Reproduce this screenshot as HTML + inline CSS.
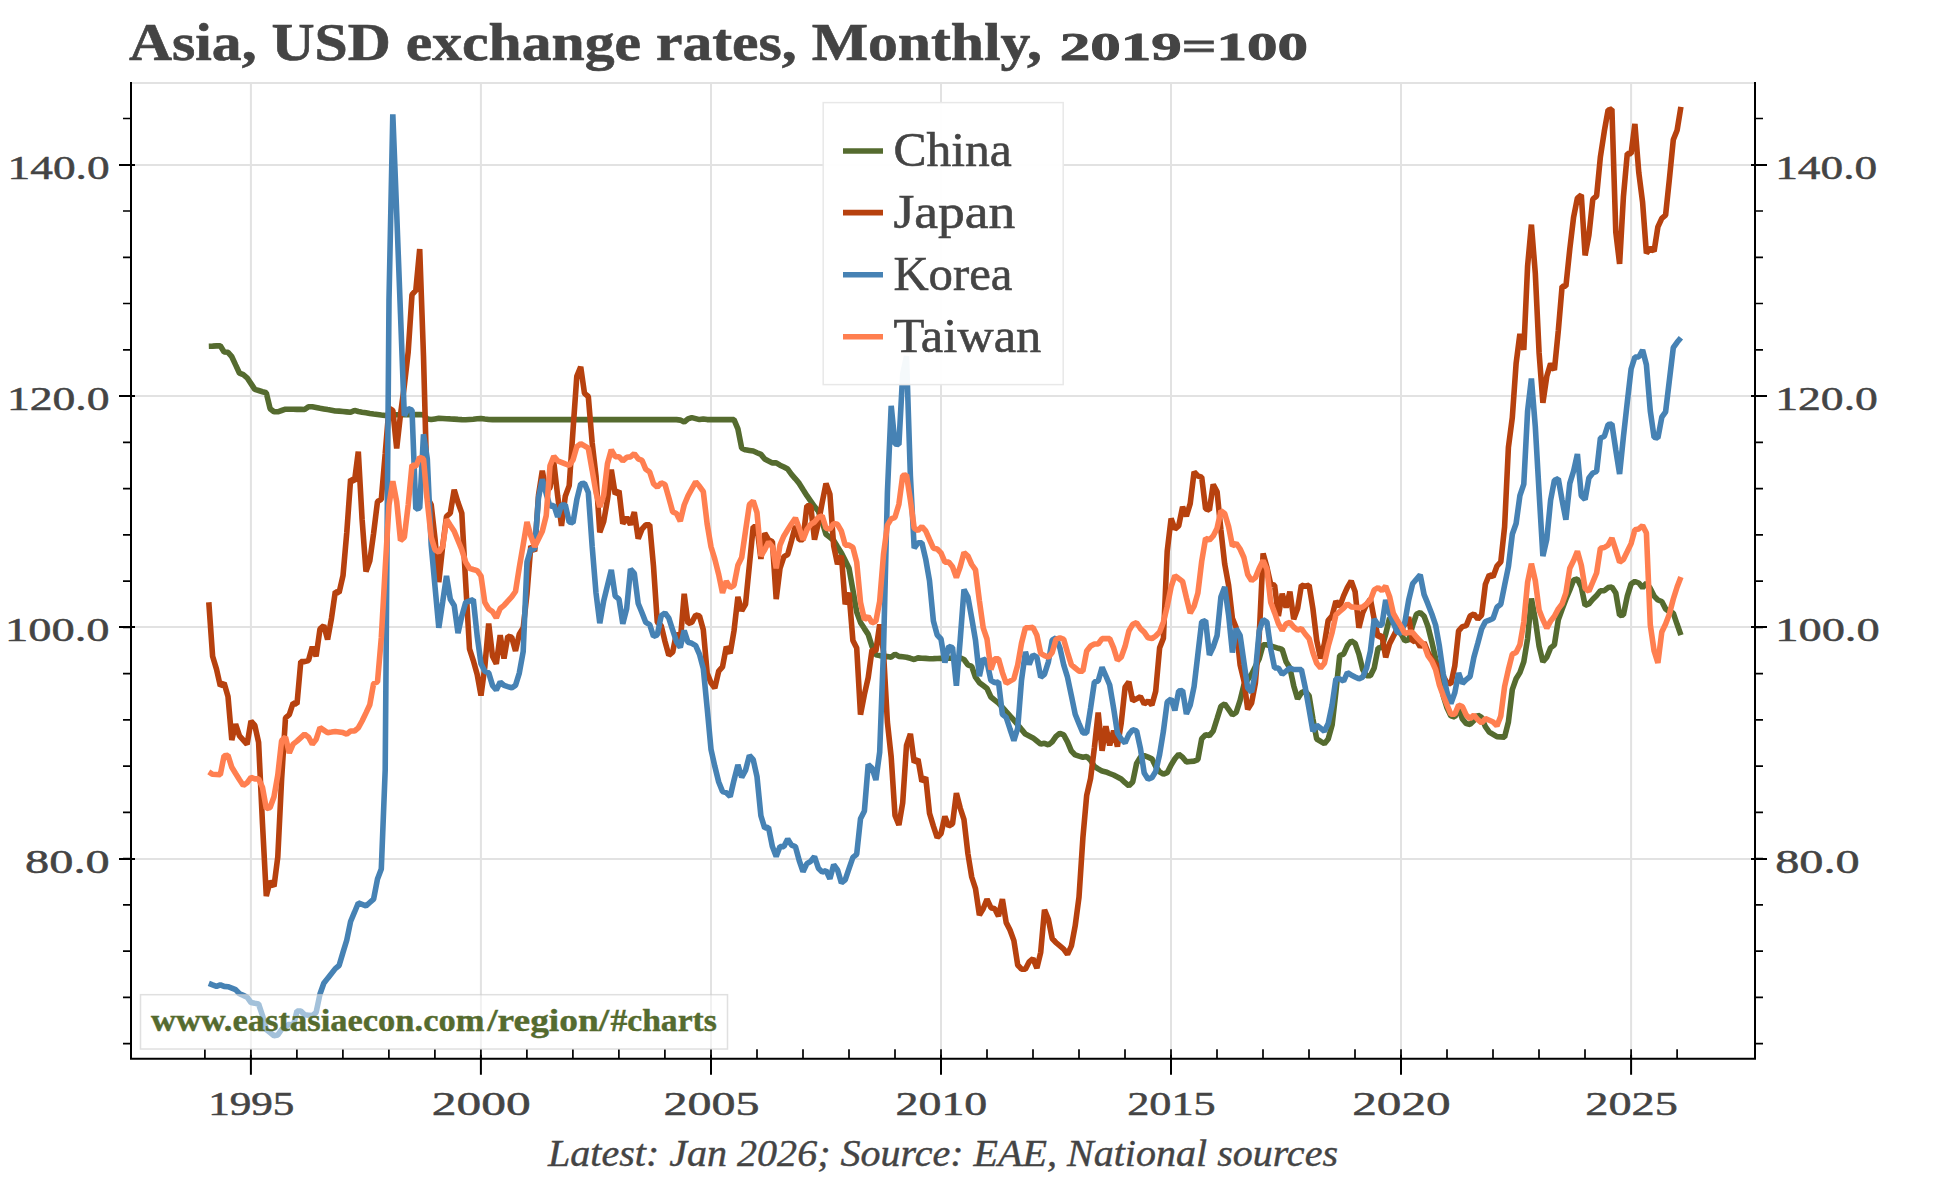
<!DOCTYPE html>
<html><head><meta charset="utf-8"><title>Asia, USD exchange rates</title>
<style>
html,body{margin:0;padding:0;background:#fff;}
svg{display:block}
text{font-family:"Liberation Serif",serif;fill:#444}
.tk{font-size:34px;stroke:#444;stroke-width:0.5px}
.s{fill:none;stroke-width:5.6;stroke-linejoin:bevel;stroke-linecap:butt}
</style></head><body>
<svg width="1944" height="1178" viewBox="0 0 1944 1178">
<rect width="1944" height="1178" fill="#fff"/>

<path d="M250.9 83V1058.8M480.9 83V1058.8M711.0 83V1058.8M941.0 83V1058.8M1171.0 83V1058.8M1401.0 83V1058.8M1631.1 83V1058.8M131 859.0H1755M131 627.0H1755M131 396.0H1755M131 165.0H1755M131 83H1755" stroke="#e2e2e2" stroke-width="2" fill="none"/>
<path class="s" d="M208.8 346.2L212.6 346.1L216.5 345.9L220.3 345.8L224.1 352.0L228.0 352.3L231.8 356.7L235.6 364.9L239.5 373.2L243.3 374.7L247.1 377.8L251.0 383.6L254.8 389.4L258.6 390.5L262.5 391.7L266.3 392.8L270.1 408.7L274.0 411.8L277.8 411.8L281.6 410.5L285.5 409.2L289.3 409.2L293.1 409.3L297.0 409.4L300.8 409.4L304.6 409.5L308.5 406.7L312.3 406.7L316.1 407.4L320.0 408.2L323.8 408.9L327.6 409.6L331.5 410.3L335.3 411.0L339.1 411.1L343.0 411.5L346.8 411.9L350.6 412.3L354.5 410.4L358.3 411.5L362.1 412.2L366.0 412.8L369.8 413.5L373.6 414.0L377.5 414.5L381.3 415.0L385.2 415.5L389.0 414.9L392.8 414.9L396.7 414.8L400.5 414.8L404.3 414.7L408.2 414.7L412.0 414.6L415.8 414.6L419.7 414.5L423.5 414.9L427.3 418.9L431.2 419.5L435.0 418.9L438.8 418.3L442.7 418.5L446.5 418.7L450.3 418.9L454.2 419.1L458.0 419.4L461.8 419.6L465.7 419.8L469.5 419.5L473.3 419.2L477.2 418.8L481.0 418.5L484.8 419.0L488.7 419.5L492.5 419.6L496.3 419.6L500.2 419.6L504.0 419.6L507.8 419.6L511.7 419.6L515.5 419.6L519.3 419.6L523.2 419.6L527.0 419.6L530.8 419.6L534.7 419.6L538.5 419.6L542.3 419.6L546.2 419.6L550.0 419.6L553.8 419.6L557.7 419.6L561.5 419.6L565.3 419.6L569.2 419.6L573.0 419.6L576.8 419.6L580.7 419.6L584.5 419.6L588.3 419.6L592.2 419.6L596.0 419.6L599.8 419.6L603.7 419.6L607.5 419.6L611.3 419.6L615.2 419.6L619.0 419.6L622.8 419.6L626.7 419.6L630.5 419.6L634.3 419.6L638.2 419.6L642.0 419.6L645.8 419.6L649.7 419.6L653.5 419.6L657.3 419.6L661.2 419.6L665.0 419.6L668.8 419.6L672.7 419.6L676.5 419.6L680.3 420.1L684.2 422.0L688.0 418.9L691.8 417.6L695.7 418.6L699.5 419.6L703.3 418.9L707.2 419.6L711.0 419.6L714.8 419.6L718.7 419.6L722.5 419.6L726.3 419.6L730.2 419.6L734.0 419.6L737.9 428.9L741.7 448.2L745.5 449.8L749.4 450.4L753.2 451.0L757.0 452.7L760.9 454.4L764.7 459.0L768.5 461.0L772.4 462.9L776.2 462.9L780.0 465.2L783.9 467.1L787.7 469.1L791.5 474.3L795.4 478.8L799.2 483.4L803.0 489.5L806.9 495.7L810.7 501.1L814.5 506.5L818.4 511.2L822.2 522.0L826.0 534.3L829.9 537.4L833.7 540.5L837.5 546.7L841.4 552.9L845.2 560.6L849.0 568.3L852.9 589.9L856.7 612.0L860.5 622.4L864.4 628.6L868.2 634.4L872.0 646.3L875.9 654.8L879.7 655.6L883.5 656.1L887.4 656.6L891.2 657.2L895.0 654.1L898.9 656.4L902.7 656.8L906.5 657.2L910.4 658.3L914.2 659.5L918.0 657.9L921.9 658.2L925.7 658.4L929.5 658.7L933.4 658.6L937.2 658.5L941.0 658.4L944.9 658.4L948.7 658.3L952.5 658.2L956.4 658.0L960.2 657.9L964.0 659.5L967.9 664.9L971.7 666.4L975.5 677.2L979.4 682.7L983.2 685.6L987.0 688.5L990.9 697.0L994.7 700.1L998.5 703.2L1002.4 707.4L1006.2 711.7L1010.0 715.9L1013.9 720.2L1017.7 724.8L1021.5 729.4L1025.4 734.1L1029.2 736.0L1033.0 737.9L1036.9 741.0L1040.7 744.1L1044.5 743.3L1048.4 744.9L1052.2 741.8L1056.0 736.4L1059.9 733.3L1063.7 734.8L1067.5 741.8L1071.4 751.1L1075.2 754.9L1079.0 756.1L1082.9 757.2L1086.7 756.5L1090.6 760.3L1094.4 766.5L1098.2 768.8L1102.1 771.1L1105.9 771.9L1109.7 773.5L1113.6 775.0L1117.4 776.9L1121.2 778.9L1125.1 782.7L1128.9 785.8L1132.7 782.0L1136.6 763.4L1140.4 757.2L1144.2 755.7L1148.1 757.2L1151.9 758.8L1155.7 766.5L1159.6 771.9L1163.4 774.2L1167.2 772.7L1171.1 765.0L1174.9 758.8L1178.7 754.2L1182.6 757.2L1186.4 761.9L1190.2 761.5L1194.1 761.1L1197.9 759.6L1201.7 738.7L1205.6 734.8L1209.4 735.6L1213.2 731.0L1217.1 718.6L1220.9 706.3L1224.7 703.9L1228.6 709.4L1232.4 714.8L1236.2 712.4L1240.1 700.4L1243.9 685.0L1247.7 679.6L1251.6 674.2L1255.4 666.4L1259.2 658.7L1263.1 644.8L1266.9 644.8L1270.7 646.0L1274.6 647.1L1278.4 648.3L1282.2 649.4L1286.1 661.8L1289.9 668.0L1293.7 685.7L1297.6 698.9L1301.4 692.7L1305.2 691.1L1309.1 695.8L1312.9 719.0L1316.7 739.0L1320.6 741.4L1324.4 743.7L1328.2 739.0L1332.1 725.1L1335.9 691.9L1339.7 655.6L1343.6 654.1L1347.4 645.6L1351.2 640.9L1355.1 643.3L1358.9 654.1L1362.7 669.5L1366.6 675.7L1370.4 675.7L1374.2 668.0L1378.1 648.0L1381.9 647.5L1385.7 634.0L1389.6 618.0L1393.4 622.9L1397.2 628.5L1401.1 634.0L1404.9 640.9L1408.7 639.9L1412.6 625.5L1416.4 614.3L1420.2 612.4L1424.1 616.2L1427.9 626.3L1431.8 641.7L1435.6 658.7L1439.4 674.2L1443.3 695.8L1447.1 708.1L1450.9 715.9L1454.8 717.0L1458.6 708.1L1462.4 719.0L1466.3 723.6L1470.1 724.4L1473.9 720.5L1477.8 715.1L1481.6 717.4L1485.4 726.7L1489.3 732.1L1493.1 734.4L1496.9 736.7L1500.8 736.9L1504.6 737.1L1508.4 722.0L1512.3 689.6L1516.1 678.8L1519.9 672.6L1523.8 661.8L1527.6 638.6L1531.4 598.5L1535.3 619.7L1539.1 646.3L1542.9 661.8L1546.8 657.2L1550.6 647.9L1554.4 644.8L1558.3 619.7L1562.1 609.3L1565.9 599.2L1569.8 589.9L1573.6 579.9L1577.4 579.1L1581.3 586.9L1585.1 605.4L1588.9 603.9L1592.8 599.2L1596.6 595.4L1600.4 590.7L1604.3 590.7L1608.1 587.6L1611.9 586.9L1615.8 593.0L1619.6 615.4L1623.4 614.9L1627.3 596.1L1631.1 583.8L1634.9 581.5L1638.8 583.0L1642.6 587.6L1646.4 583.0L1650.3 588.4L1654.1 596.1L1657.9 600.0L1661.8 601.5L1665.6 608.9L1669.4 611.6L1673.3 613.1L1677.1 624.3L1680.9 635.1" stroke="#556B2F"/>
<path class="s" d="M208.8 602.2L212.6 656.3L216.5 669.1L220.3 686.0L224.1 682.9L228.0 696.6L231.8 740.1L235.6 724.2L239.5 735.9L243.3 740.1L247.1 744.4L251.0 721.0L254.8 725.3L258.6 742.3L262.5 823.9L266.3 896.1L270.1 881.2L274.0 886.5L277.8 856.8L281.6 779.4L285.5 717.9L289.3 714.7L293.1 703.0L297.0 704.1L300.8 661.6L304.6 661.6L308.5 660.6L312.3 646.8L316.1 656.3L320.0 628.8L323.8 625.6L327.6 639.4L331.5 618.2L335.3 591.6L339.1 592.7L343.0 575.7L346.8 532.2L350.6 479.2L354.5 481.3L358.3 451.6L362.1 519.5L366.0 571.5L369.8 560.9L373.6 533.3L377.5 501.5L381.3 499.4L385.2 453.8L389.0 408.1L392.8 410.3L396.7 448.4L400.5 414.5L404.3 385.9L408.2 351.9L412.0 294.6L415.8 290.4L419.7 249.0L423.5 356.2L427.3 497.2L431.2 504.7L435.0 538.6L438.8 582.1L442.7 546.0L446.5 516.3L450.3 513.1L454.2 489.8L458.0 502.5L461.8 513.1L465.7 583.2L469.5 648.9L473.3 660.6L477.2 674.4L481.0 695.6L484.8 666.9L488.7 623.5L492.5 656.3L496.3 663.8L500.2 635.1L504.0 658.5L507.8 636.2L511.7 637.2L515.5 651.0L519.3 634.1L523.2 627.7L527.0 593.8L530.8 546.0L534.7 551.3L538.5 495.1L542.3 470.7L546.2 491.9L550.0 487.7L553.8 462.2L557.7 496.2L561.5 525.9L565.3 496.2L569.2 485.6L573.0 430.4L576.8 376.3L580.7 366.8L584.5 393.3L588.3 396.5L592.2 443.1L596.0 476.0L599.8 532.2L603.7 521.6L607.5 499.4L611.3 469.7L615.2 494.1L619.0 490.9L622.8 523.8L626.7 517.4L630.5 524.8L634.3 512.1L638.2 538.6L642.0 529.1L645.8 524.8L649.7 524.8L653.5 566.2L657.3 622.4L661.2 625.6L665.0 641.5L668.8 655.3L672.7 652.1L676.5 633.0L680.3 641.5L684.2 593.8L688.0 623.5L691.8 622.4L695.7 615.0L699.5 616.0L703.3 629.8L707.2 673.3L711.0 682.9L714.8 688.2L718.7 671.2L722.5 666.9L726.3 646.8L730.2 653.2L734.0 630.9L737.9 596.9L741.7 610.7L745.5 604.4L749.4 565.1L753.2 526.9L757.0 526.9L760.9 558.8L764.7 533.3L768.5 539.7L772.4 541.8L776.2 599.1L780.0 568.3L783.9 556.6L787.7 554.5L791.5 540.7L795.4 525.9L799.2 539.7L803.0 539.7L806.9 505.7L810.7 505.7L814.5 539.7L818.4 522.7L822.2 502.5L826.0 483.5L829.9 494.1L833.7 546.0L837.5 564.1L841.4 555.6L845.2 604.4L849.0 592.7L852.9 640.4L856.7 647.9L860.5 714.7L864.4 694.5L868.2 677.6L872.0 650.0L875.9 651.0L879.7 624.5L883.5 652.1L887.4 722.1L891.2 757.1L895.0 815.4L898.9 825.0L902.7 802.7L906.5 745.4L910.4 733.8L914.2 762.4L918.0 759.2L921.9 781.5L925.7 777.3L929.5 813.3L933.4 826.1L937.2 837.7L941.0 833.5L944.9 816.5L948.7 826.1L952.5 823.9L956.4 793.2L960.2 808.0L964.0 819.7L967.9 853.6L971.7 877.0L975.5 888.6L979.4 915.1L983.2 908.8L987.0 899.2L990.9 907.7L994.7 908.8L998.5 916.2L1002.4 899.2L1006.2 922.6L1010.0 930.0L1013.9 940.6L1017.7 965.0L1021.5 969.2L1025.4 969.2L1029.2 961.8L1033.0 958.6L1036.9 968.2L1040.7 952.3L1044.5 909.8L1048.4 919.4L1052.2 938.5L1056.0 942.7L1059.9 945.9L1063.7 949.1L1067.5 954.4L1071.4 945.9L1075.2 925.8L1079.0 897.1L1082.9 837.7L1086.7 795.3L1090.6 778.3L1094.4 747.6L1098.2 712.6L1102.1 750.7L1105.9 726.3L1109.7 745.4L1113.6 730.6L1117.4 746.5L1121.2 723.2L1125.1 687.1L1128.9 681.8L1132.7 700.9L1136.6 698.8L1140.4 696.6L1144.2 704.1L1148.1 700.9L1151.9 705.1L1155.7 691.3L1159.6 647.9L1163.4 638.3L1167.2 551.3L1171.1 518.5L1174.9 529.1L1178.7 525.9L1182.6 506.8L1186.4 516.3L1190.2 503.6L1194.1 471.8L1197.9 476.0L1201.7 477.1L1205.6 508.9L1209.4 510.0L1213.2 484.5L1217.1 491.9L1220.9 530.1L1224.7 564.1L1228.6 585.3L1232.4 618.2L1236.2 627.7L1240.1 664.8L1243.9 680.7L1247.7 709.4L1251.6 703.0L1255.4 682.9L1259.2 636.2L1263.1 553.5L1266.9 567.2L1270.7 584.2L1274.6 585.3L1278.4 616.0L1282.2 593.8L1286.1 607.6L1289.9 591.6L1293.7 619.2L1297.6 608.6L1301.4 585.3L1305.2 586.3L1309.1 585.3L1312.9 608.6L1316.7 640.4L1320.6 658.5L1324.4 643.6L1328.2 620.3L1332.1 616.0L1335.9 601.2L1339.7 606.5L1343.6 595.9L1347.4 587.4L1351.2 581.0L1355.1 591.6L1358.9 627.7L1362.7 612.9L1366.6 604.4L1370.4 599.1L1374.2 619.2L1378.1 637.2L1381.9 635.1L1385.7 657.4L1389.6 643.6L1393.4 636.2L1397.2 628.8L1401.1 626.6L1404.9 624.5L1408.7 617.1L1412.6 641.5L1416.4 640.4L1420.2 646.8L1424.1 642.6L1427.9 652.1L1431.8 659.5L1435.6 663.8L1439.4 668.0L1443.3 676.5L1447.1 682.9L1450.9 683.9L1454.8 665.9L1458.6 630.9L1462.4 626.6L1466.3 625.6L1470.1 616.0L1473.9 613.9L1477.8 619.2L1481.6 615.0L1485.4 584.2L1489.3 574.7L1493.1 576.8L1496.9 566.2L1500.8 561.9L1504.6 526.9L1508.4 447.4L1512.3 417.7L1516.1 363.6L1519.9 333.9L1523.8 349.8L1527.6 266.0L1531.4 224.6L1535.3 273.4L1539.1 353.0L1542.9 402.8L1546.8 376.3L1550.6 363.6L1554.4 370.0L1558.3 330.7L1562.1 286.2L1565.9 286.2L1569.8 249.0L1573.6 217.2L1577.4 198.1L1581.3 194.9L1585.1 255.4L1588.9 235.3L1592.8 199.2L1596.6 196.0L1600.4 156.8L1604.3 131.3L1608.1 110.1L1611.9 109.0L1615.8 232.1L1619.6 263.9L1623.4 197.1L1627.3 153.6L1631.1 153.6L1634.9 123.9L1638.8 172.7L1642.6 202.4L1646.4 253.3L1650.3 248.0L1654.1 251.2L1657.9 226.8L1661.8 218.3L1665.6 215.1L1669.4 179.0L1673.3 139.8L1677.1 130.2L1680.9 106.9" stroke="#B7410E"/>
<path class="s" d="M208.8 983.4L212.6 984.9L216.5 986.3L220.3 984.8L224.1 986.4L228.0 986.7L231.8 988.1L235.6 989.6L239.5 993.7L243.3 995.4L247.1 997.2L251.0 1002.5L254.8 1003.3L258.6 1004.0L262.5 1015.6L266.3 1029.5L270.1 1032.6L274.0 1035.7L277.8 1034.9L281.6 1029.5L285.5 1026.8L289.3 1024.1L293.1 1026.4L297.0 1011.0L300.8 1011.0L304.6 1014.8L308.5 1015.2L312.3 1015.6L316.1 1012.5L320.0 994.0L323.8 983.3L327.6 978.4L331.5 973.5L335.3 968.6L339.1 965.5L343.0 952.4L346.8 940.0L350.6 921.5L354.5 912.2L358.3 903.0L362.1 904.4L366.0 905.9L369.8 902.5L373.6 899.1L377.5 879.0L381.3 869.0L385.2 770.0L389.0 300.0L392.8 114.3L396.7 213.0L400.5 314.0L404.3 415.7L408.2 408.5L412.0 410.0L415.8 509.0L419.7 508.0L423.5 434.3L427.3 459.0L431.2 545.1L435.0 586.5L438.8 627.8L442.7 601.9L446.5 576.0L450.3 599.2L454.2 605.4L458.0 633.2L461.8 616.2L465.7 602.3L469.5 601.0L473.3 599.6L477.2 636.0L481.0 663.8L484.8 671.2L488.7 672.9L492.5 685.4L496.3 690.1L500.2 682.0L504.0 685.4L507.8 686.6L511.7 687.8L515.5 685.4L519.3 673.1L523.2 651.4L527.0 562.1L530.8 549.0L534.7 549.0L538.5 497.6L542.3 479.3L546.2 493.6L550.0 506.5L553.8 505.0L557.7 517.0L561.5 505.0L565.3 505.0L569.2 522.0L573.0 522.7L576.8 499.7L580.7 483.8L584.5 483.4L588.3 492.5L592.2 546.7L596.0 593.0L599.8 623.2L603.7 600.8L607.5 585.3L611.3 569.9L615.2 596.1L619.0 599.2L622.8 623.9L626.7 608.5L630.5 569.1L634.3 573.3L638.2 603.5L642.0 612.7L645.8 622.4L649.7 624.7L653.5 636.3L657.3 634.8L661.2 615.8L665.0 612.9L668.8 618.1L672.7 630.1L676.5 641.7L680.3 647.4L684.2 630.5L688.0 642.3L691.8 643.3L695.7 645.6L699.5 654.3L703.3 668.6L707.2 708.5L711.0 749.3L714.8 766.3L718.7 782.0L722.5 791.5L726.3 792.7L730.2 796.5L734.0 780.2L737.9 764.9L741.7 777.3L745.5 770.5L749.4 755.4L753.2 759.6L757.0 776.6L760.9 815.7L764.7 828.1L768.5 827.3L772.4 846.6L776.2 856.6L780.0 846.6L783.9 846.6L787.7 838.9L791.5 845.1L795.4 846.6L799.2 860.5L803.0 871.7L806.9 863.6L810.7 861.3L814.5 856.6L818.4 868.2L822.2 872.1L826.0 870.5L829.9 878.7L833.7 864.7L837.5 869.8L841.4 882.9L845.2 879.8L849.0 868.6L852.9 857.4L856.7 854.3L860.5 818.8L864.4 811.1L868.2 764.5L872.0 768.0L875.9 780.0L879.7 752.0L883.5 650.0L887.4 492.9L891.2 405.8L895.0 444.0L898.9 444.5L902.7 374.0L906.5 356.0L910.4 476.2L914.2 548.2L918.0 542.8L921.9 542.8L925.7 559.1L929.5 580.7L933.4 620.9L937.2 635.0L941.0 639.0L944.9 662.6L948.7 646.3L952.5 647.6L956.4 685.7L960.2 640.0L964.0 589.5L967.9 597.0L971.7 618.0L975.5 640.2L979.4 676.1L983.2 658.7L987.0 661.8L990.9 680.3L994.7 682.7L998.5 681.9L1002.4 714.3L1006.2 717.4L1010.0 729.0L1013.9 740.6L1017.7 728.2L1021.5 680.3L1025.4 651.8L1029.2 664.5L1033.0 654.8L1036.9 657.2L1040.7 677.2L1044.5 674.2L1048.4 661.8L1052.2 640.2L1056.0 637.8L1059.9 647.9L1063.7 664.9L1067.5 677.2L1071.4 695.8L1075.2 714.3L1079.0 723.6L1082.9 732.9L1086.7 732.9L1090.6 708.0L1094.4 682.0L1098.2 681.0L1102.1 667.3L1105.9 676.0L1109.7 685.0L1113.6 708.1L1117.4 732.9L1121.2 739.0L1125.1 742.9L1128.9 734.4L1132.7 729.8L1136.6 730.9L1140.4 748.3L1144.2 773.0L1148.1 779.2L1151.9 777.7L1155.7 771.5L1159.6 754.5L1163.4 731.3L1167.2 702.0L1171.1 698.9L1174.9 710.5L1178.7 691.1L1182.6 690.4L1186.4 714.0L1190.2 705.1L1194.1 686.5L1197.9 654.1L1201.7 621.9L1205.6 620.6L1209.4 655.0L1213.2 647.0L1217.1 635.5L1220.9 597.0L1224.7 587.0L1228.6 615.0L1232.4 652.5L1236.2 628.6L1240.1 635.5L1243.9 661.8L1247.7 688.1L1251.6 691.9L1255.4 672.6L1259.2 630.9L1263.1 619.6L1266.9 622.0L1270.7 648.7L1274.6 668.0L1278.4 668.0L1282.2 674.2L1286.1 671.1L1289.9 668.0L1293.7 669.5L1297.6 669.5L1301.4 669.5L1305.2 687.3L1309.1 709.3L1312.9 731.3L1316.7 725.1L1320.6 728.2L1324.4 731.3L1328.2 723.6L1332.1 705.1L1335.9 678.8L1339.7 678.8L1343.6 681.1L1347.4 672.6L1351.2 674.9L1355.1 676.9L1358.9 678.8L1362.7 677.2L1366.6 668.0L1370.4 651.0L1374.2 619.0L1378.1 625.1L1381.9 625.1L1385.7 600.0L1389.6 613.9L1393.4 623.0L1397.2 632.1L1401.1 633.2L1404.9 622.0L1408.7 600.0L1412.6 583.8L1416.4 579.3L1420.2 574.9L1424.1 594.6L1427.9 603.9L1431.8 613.9L1435.6 625.1L1439.4 646.3L1443.3 674.2L1447.1 692.7L1450.9 703.5L1454.8 692.7L1458.6 673.0L1462.4 683.4L1466.3 679.6L1470.1 676.5L1473.9 657.2L1477.8 643.3L1481.6 629.0L1485.4 621.6L1489.3 620.1L1493.1 618.5L1496.9 607.3L1500.8 604.2L1504.6 585.3L1508.4 566.8L1512.3 534.3L1516.1 523.5L1519.9 495.7L1523.8 484.1L1527.6 411.0L1531.4 378.6L1535.3 426.5L1539.1 492.6L1542.9 556.0L1546.8 539.0L1550.6 500.3L1554.4 480.3L1558.3 478.7L1562.1 500.3L1565.9 519.7L1569.8 483.4L1573.6 471.0L1577.4 454.0L1581.3 495.7L1585.1 499.6L1588.9 477.9L1592.8 473.0L1596.6 471.5L1600.4 438.0L1604.3 436.5L1608.1 424.6L1611.9 424.0L1615.8 450.0L1619.6 474.0L1623.4 437.0L1627.3 402.0L1631.1 369.0L1634.9 357.0L1638.8 357.0L1642.6 350.0L1646.4 364.7L1650.3 411.0L1654.1 437.3L1657.9 438.1L1661.8 417.2L1665.6 411.8L1669.4 380.1L1673.3 347.7L1677.1 342.3L1680.9 337.7" stroke="#4682B4"/>
<path class="s" d="M208.8 771.9L212.6 774.3L216.5 774.5L220.3 774.7L224.1 755.7L228.0 755.3L231.8 767.3L235.6 773.5L239.5 779.7L243.3 785.5L247.1 782.8L251.0 777.4L254.8 778.9L258.6 778.9L262.5 787.4L266.3 808.6L270.1 807.5L274.0 796.7L277.8 775.0L281.6 740.7L285.5 737.2L289.3 753.0L293.1 744.1L297.0 741.1L300.8 737.6L304.6 734.1L308.5 737.2L312.3 744.1L316.1 739.5L320.0 727.5L323.8 730.1L327.6 732.7L331.5 732.1L335.3 731.5L339.1 732.0L343.0 732.6L346.8 734.1L350.6 731.0L354.5 731.0L358.3 727.9L362.1 721.0L366.0 712.9L369.8 704.7L373.6 683.5L377.5 682.0L381.3 638.0L385.2 568.3L389.0 505.0L392.8 481.2L396.7 501.7L400.5 540.5L404.3 537.4L408.2 505.0L412.0 465.0L415.8 466.4L419.7 457.3L423.5 458.9L427.3 501.3L431.2 537.4L435.0 549.8L438.8 552.1L442.7 546.7L446.5 519.3L450.3 525.3L454.2 531.2L458.0 540.5L461.8 549.8L465.7 562.1L469.5 568.3L473.3 569.5L477.2 570.6L481.0 576.0L484.8 602.3L488.7 609.0L492.5 611.6L496.3 617.8L500.2 608.5L504.0 605.4L507.8 601.1L511.7 596.9L515.5 591.5L519.3 567.5L523.2 544.8L527.0 522.0L530.8 535.9L534.7 546.7L538.5 539.0L542.3 531.2L546.2 515.8L550.0 465.8L553.8 456.2L557.7 460.8L561.5 462.3L565.3 463.9L569.2 465.4L573.0 460.0L576.8 446.7L580.7 443.6L584.5 445.9L588.3 448.2L592.2 470.4L596.0 492.6L599.8 507.0L603.7 495.1L607.5 463.4L611.3 449.8L615.2 456.7L619.0 456.7L622.8 460.8L626.7 457.3L630.5 456.9L634.3 453.6L638.2 458.8L642.0 460.4L645.8 469.3L649.7 472.0L653.5 483.6L657.3 487.2L661.2 482.8L665.0 484.5L668.8 497.7L672.7 511.9L676.5 513.5L680.3 521.2L684.2 505.0L688.0 495.9L691.8 488.9L695.7 481.8L699.5 486.3L703.3 491.7L707.2 524.3L711.0 546.7L714.8 559.1L718.7 574.5L722.5 593.0L726.3 581.1L730.2 587.6L734.0 585.3L737.9 565.2L741.7 557.5L745.5 531.2L749.4 504.6L753.2 500.9L757.0 512.7L760.9 556.0L764.7 549.8L768.5 542.1L772.4 546.7L776.2 568.3L780.0 545.1L783.9 535.9L787.7 529.8L791.5 523.8L795.4 518.1L799.2 528.2L803.0 539.7L806.9 529.7L810.7 524.3L814.5 522.0L818.4 517.3L822.2 515.8L826.0 528.2L829.9 528.9L833.7 523.5L837.5 524.3L841.4 531.2L845.2 545.1L849.0 545.1L852.9 547.5L856.7 562.1L860.5 602.3L864.4 619.6L868.2 616.5L872.0 622.8L875.9 621.2L879.7 601.2L883.5 554.4L887.4 525.1L891.2 518.9L895.0 517.3L898.9 504.2L902.7 475.6L906.5 474.9L910.4 500.3L914.2 528.2L918.0 530.5L921.9 526.6L925.7 530.9L929.5 539.5L933.4 548.2L937.2 549.0L941.0 552.9L944.9 562.1L948.7 562.1L952.5 566.8L956.4 577.6L960.2 566.8L964.0 552.5L967.9 556.0L971.7 564.5L975.5 569.9L979.4 600.8L983.2 627.8L987.0 639.0L990.9 669.5L994.7 658.7L998.5 658.7L1002.4 672.6L1006.2 683.4L1010.0 681.1L1013.9 678.8L1017.7 664.9L1021.5 643.3L1025.4 627.8L1029.2 627.8L1033.0 627.4L1036.9 635.3L1040.7 653.3L1044.5 655.6L1048.4 657.2L1052.2 652.5L1056.0 639.4L1059.9 637.8L1063.7 639.4L1067.5 652.5L1071.4 664.9L1075.2 668.0L1079.0 671.1L1082.9 671.1L1086.7 651.0L1090.6 646.0L1094.4 644.0L1098.2 644.0L1102.1 638.6L1105.9 638.6L1109.7 638.6L1113.6 647.9L1117.4 660.3L1121.2 657.2L1125.1 646.3L1128.9 630.9L1132.7 624.3L1136.6 622.7L1140.4 628.6L1144.2 632.1L1148.1 637.8L1151.9 638.6L1155.7 636.0L1159.6 632.1L1163.4 622.0L1167.2 606.6L1171.1 586.9L1174.9 575.7L1178.7 578.6L1182.6 581.5L1186.4 597.7L1190.2 613.1L1194.1 606.2L1197.9 593.0L1201.7 561.4L1205.6 538.2L1209.4 540.1L1213.2 535.9L1217.1 528.2L1220.9 510.8L1224.7 513.5L1228.6 526.6L1232.4 545.9L1236.2 543.2L1240.1 549.0L1243.9 557.5L1247.7 574.5L1251.6 580.7L1255.4 577.6L1259.2 568.3L1263.1 560.6L1266.9 569.1L1270.7 602.3L1274.6 612.7L1278.4 623.6L1282.2 630.5L1286.1 623.9L1289.9 622.4L1293.7 627.0L1297.6 630.1L1301.4 628.6L1305.2 634.0L1309.1 638.6L1312.9 652.5L1316.7 663.3L1320.6 668.0L1324.4 663.3L1328.2 646.3L1332.1 632.4L1335.9 614.9L1339.7 611.5L1343.6 608.1L1347.4 603.9L1351.2 606.9L1355.1 607.3L1358.9 607.7L1362.7 606.9L1366.6 603.9L1370.4 600.0L1374.2 589.9L1378.1 587.6L1381.9 590.7L1385.7 586.1L1389.6 596.7L1393.4 613.5L1397.2 620.1L1401.1 626.6L1404.9 633.6L1408.7 632.4L1412.6 632.4L1416.4 637.1L1420.2 640.9L1424.1 644.8L1427.9 655.6L1431.8 661.0L1435.6 669.5L1439.4 685.0L1443.3 695.8L1447.1 705.1L1450.9 714.3L1454.8 714.3L1458.6 705.1L1462.4 706.6L1466.3 715.1L1470.1 718.6L1473.9 715.1L1477.8 719.7L1481.6 722.8L1485.4 718.6L1489.3 720.3L1493.1 722.0L1496.9 725.9L1500.8 715.9L1504.6 686.5L1508.4 669.5L1512.3 654.1L1516.1 652.5L1519.9 644.8L1523.8 622.1L1527.6 582.2L1531.4 563.7L1535.3 580.7L1539.1 610.0L1542.9 619.7L1546.8 628.2L1550.6 621.1L1554.4 616.2L1558.3 608.9L1562.1 603.9L1565.9 593.0L1569.8 568.3L1573.6 560.6L1577.4 551.3L1581.3 565.2L1585.1 588.4L1588.9 591.1L1592.8 582.0L1596.6 573.0L1600.4 548.2L1604.3 547.5L1608.1 545.1L1611.9 538.2L1615.8 549.8L1619.6 562.1L1623.4 559.4L1627.3 551.5L1631.1 543.6L1634.9 529.7L1638.8 528.9L1642.6 525.5L1646.4 533.0L1650.3 625.0L1654.1 651.0L1657.9 663.0L1661.8 632.0L1665.6 624.0L1669.4 614.0L1673.3 599.0L1677.1 587.0L1680.9 577.0" stroke="#FF7F50"/>
<path d="M131 82V1058.8H1755V82" stroke="#000" stroke-width="2" fill="none" stroke-linejoin="miter" stroke-linecap="butt"/>
<path d="M250.9 1054.8V1074.8M480.9 1054.8V1074.8M711.0 1054.8V1074.8M941.0 1054.8V1074.8M1171.0 1054.8V1074.8M1401.0 1054.8V1074.8M1631.1 1054.8V1074.8M119 859.0H135M1751 859.0H1767M119 627.0H135M1751 627.0H1767M119 396.0H135M1751 396.0H1767M119 165.0H135M1751 165.0H1767" stroke="#000" stroke-width="2" fill="none"/>
<path d="M204.9 1049.3V1058.8M250.9 1049.3V1058.8M296.9 1049.3V1058.8M342.9 1049.3V1058.8M388.9 1049.3V1058.8M434.9 1049.3V1058.8M480.9 1049.3V1058.8M526.9 1049.3V1058.8M572.9 1049.3V1058.8M618.9 1049.3V1058.8M664.9 1049.3V1058.8M711.0 1049.3V1058.8M757.0 1049.3V1058.8M803.0 1049.3V1058.8M849.0 1049.3V1058.8M895.0 1049.3V1058.8M941.0 1049.3V1058.8M987.0 1049.3V1058.8M1033.0 1049.3V1058.8M1079.0 1049.3V1058.8M1125.0 1049.3V1058.8M1171.0 1049.3V1058.8M1217.0 1049.3V1058.8M1263.0 1049.3V1058.8M1309.0 1049.3V1058.8M1355.0 1049.3V1058.8M1401.0 1049.3V1058.8M1447.0 1049.3V1058.8M1493.0 1049.3V1058.8M1539.0 1049.3V1058.8M1585.0 1049.3V1058.8M1631.1 1049.3V1058.8M1677.1 1049.3V1058.8M123 1043.7H131M1755 1043.7H1763M123 997.4H131M1755 997.4H1763M123 951.2H131M1755 951.2H1763M123 904.9H131M1755 904.9H1763M123 858.6H131M1755 858.6H1763M123 812.4H131M1755 812.4H1763M123 766.1H131M1755 766.1H1763M123 719.9H131M1755 719.9H1763M123 673.6H131M1755 673.6H1763M123 627.4H131M1755 627.4H1763M123 581.1H131M1755 581.1H1763M123 534.8H131M1755 534.8H1763M123 488.6H131M1755 488.6H1763M123 442.3H131M1755 442.3H1763M123 396.1H131M1755 396.1H1763M123 349.8H131M1755 349.8H1763M123 303.5H131M1755 303.5H1763M123 257.3H131M1755 257.3H1763M123 211.0H131M1755 211.0H1763M123 164.8H131M1755 164.8H1763M123 118.5H131M1755 118.5H1763" stroke="#000" stroke-width="1.7" fill="none"/>
<rect x="140.5" y="994.7" width="587" height="54.3" fill="#fff" fill-opacity="0.5" stroke="#ccc" stroke-opacity="0.6" stroke-width="1.5"/>
<text y="1031" font-size="32" font-weight="bold" style="fill:#556B2F" stroke="#556B2F" stroke-width="0.4"><tspan x="151" textLength="333.5" lengthAdjust="spacingAndGlyphs">www.eastasiaecon.com</tspan><tspan x="487.2" textLength="122" lengthAdjust="spacingAndGlyphs">/region/</tspan><tspan x="610.4" textLength="106.5" lengthAdjust="spacingAndGlyphs">#charts</tspan></text>
<rect x="823.2" y="102.6" width="240" height="282" fill="#fff" fill-opacity="0.95" stroke="#e8e8e8" stroke-width="1.5"/>
<path d="M843 151H883" stroke="#556B2F" stroke-width="5.6" fill="none"/>
<text x="893.4" y="166.3" font-size="49.5" stroke="#444" stroke-width="0.6" textLength="118.4" lengthAdjust="spacingAndGlyphs">China</text>
<path d="M843 212.6H883" stroke="#B7410E" stroke-width="5.6" fill="none"/>
<text x="893.4" y="227.9" font-size="49.5" stroke="#444" stroke-width="0.6" textLength="122" lengthAdjust="spacingAndGlyphs">Japan</text>
<path d="M843 274.7H883" stroke="#4682B4" stroke-width="5.6" fill="none"/>
<text x="893.4" y="290.0" font-size="49.5" stroke="#444" stroke-width="0.6" textLength="119" lengthAdjust="spacingAndGlyphs">Korea</text>
<path d="M843 336.8H883" stroke="#FF7F50" stroke-width="5.6" fill="none"/>
<text x="893.4" y="352.1" font-size="49.5" stroke="#444" stroke-width="0.6" textLength="148" lengthAdjust="spacingAndGlyphs">Taiwan</text>
<text x="129" y="60.4" font-size="53.5" font-weight="bold" stroke="#444" stroke-width="0.6" textLength="913" lengthAdjust="spacingAndGlyphs">Asia, USD exchange rates, Monthly,</text>
<text x="1059.7" y="60.4" font-size="40" font-weight="bold" stroke="#444" stroke-width="0.8" textLength="248.3" lengthAdjust="spacingAndGlyphs">2019=100</text>
<text class="tk" x="251.3" y="1115.3" text-anchor="middle" textLength="86.3" lengthAdjust="spacingAndGlyphs">1995</text>
<text class="tk" x="481.3" y="1115.3" text-anchor="middle" textLength="98.9" lengthAdjust="spacingAndGlyphs">2000</text>
<text class="tk" x="711.4" y="1115.3" text-anchor="middle" textLength="96" lengthAdjust="spacingAndGlyphs">2005</text>
<text class="tk" x="941.4" y="1115.3" text-anchor="middle" textLength="91.7" lengthAdjust="spacingAndGlyphs">2010</text>
<text class="tk" x="1171.4" y="1115.3" text-anchor="middle" textLength="88.5" lengthAdjust="spacingAndGlyphs">2015</text>
<text class="tk" x="1401.4" y="1115.3" text-anchor="middle" textLength="98.5" lengthAdjust="spacingAndGlyphs">2020</text>
<text class="tk" x="1631.5" y="1115.3" text-anchor="middle" textLength="92.5" lengthAdjust="spacingAndGlyphs">2025</text>
<text class="tk" x="109.6" y="873.2" text-anchor="end" textLength="84.5" lengthAdjust="spacingAndGlyphs">80.0</text>
<text class="tk" x="1775.2" y="873.2" textLength="84.5" lengthAdjust="spacingAndGlyphs">80.0</text>
<text class="tk" x="109.6" y="641.2" text-anchor="end" textLength="104.5" lengthAdjust="spacingAndGlyphs">100.0</text>
<text class="tk" x="1775.2" y="641.2" textLength="104.5" lengthAdjust="spacingAndGlyphs">100.0</text>
<text class="tk" x="109.6" y="410.2" text-anchor="end" textLength="102.7" lengthAdjust="spacingAndGlyphs">120.0</text>
<text class="tk" x="1775.2" y="410.2" textLength="102.7" lengthAdjust="spacingAndGlyphs">120.0</text>
<text class="tk" x="109.6" y="179.2" text-anchor="end" textLength="102" lengthAdjust="spacingAndGlyphs">140.0</text>
<text class="tk" x="1775.2" y="179.2" textLength="102" lengthAdjust="spacingAndGlyphs">140.0</text>
<text x="943" y="1166"  font-size="37" font-style="italic" stroke="#444" stroke-width="0.4" text-anchor="middle" textLength="790" lengthAdjust="spacingAndGlyphs">Latest: Jan 2026; Source: EAE, National sources</text>
</svg></body></html>
